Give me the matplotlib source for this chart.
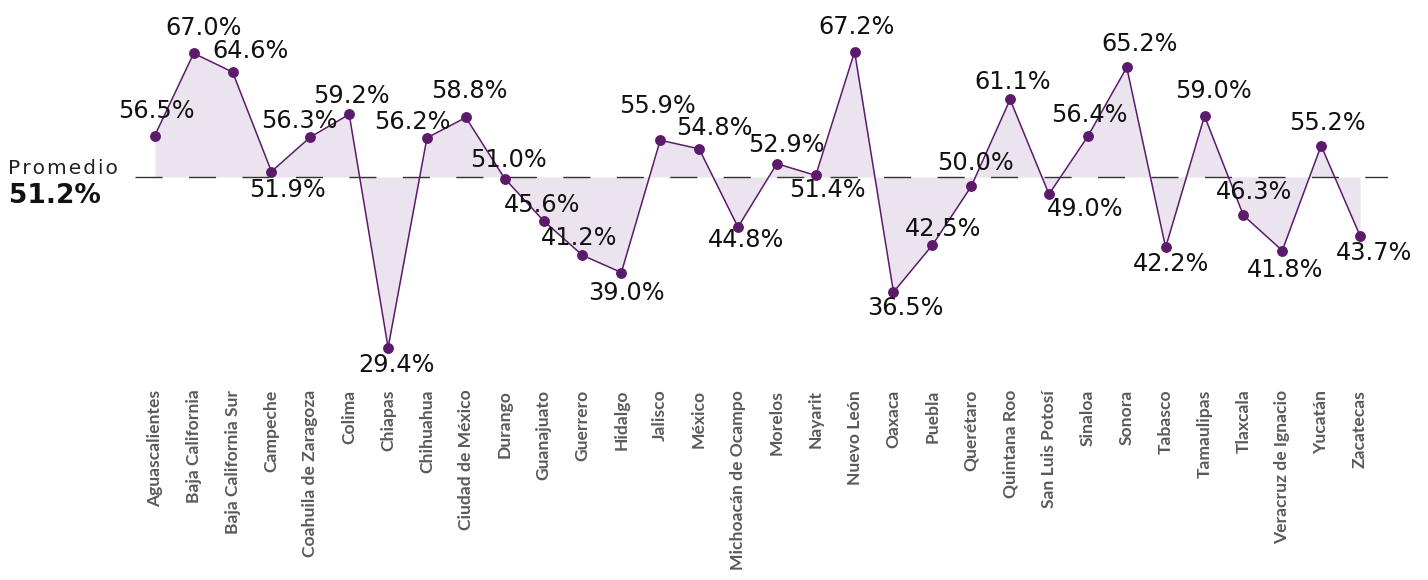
import numpy as np
import matplotlib.pyplot as plt

# data
states = ["Aguascalientes", "Baja California", "Baja California Sur", "Campeche",
          "Coahuila de Zaragoza", "Colima", "Chiapas", "Chihuahua", "Ciudad de México",
          "Durango", "Guanajuato", "Guerrero", "Hidalgo", "Jalisco", "México",
          "Michoacán de Ocampo", "Morelos", "Nayarit", "Nuevo León", "Oaxaca", "Puebla",
          "Querétaro", "Quintana Roo", "San Luis Potosí", "Sinaloa", "Sonora", "Tabasco",
          "Tamaulipas", "Tlaxcala", "Veracruz de Ignacio", "Yucatán", "Zacatecas"]
values = [56.5, 67.0, 64.6, 51.9, 56.3, 59.2, 29.4, 56.2, 58.8, 51.0, 45.6, 41.2,
          39.0, 55.9, 54.8, 44.8, 52.9, 51.4, 67.2, 36.5, 42.5, 50.0, 61.1, 49.0,
          56.4, 65.2, 42.2, 59.0, 46.3, 41.8, 55.2, 43.7]
average = 51.2

# label offsets in pixels (dx, dy up) - just layout tweaks
label_offsets = [(2, 25), (10, 25), (18, 21), (16, -18), (-11, 16), (2, 18), (8, -17),
                 (-15, 16), (4, 26), (4, 19), (-1, 16), (-3, 17), (5, -20), (-3, 34),
                 (15, 21), (8, -13), (10, 19), (12, -15), (2, 25), (12, -16), (11, 16),
                 (4, 23), (3, 17), (36, -15), (2, 21), (13, 23), (5, -17), (9, 25),
                 (11, 23), (3, -19), (6, 23), (14, -17)]

purple = "#5c1a6b"
fill_col = "#ebe4ee"

W, H = 1428, 580
fig = plt.figure(figsize=(W / 100, H / 100), dpi=100)
ax = fig.add_axes([135 / W, 1 - 380 / H, (1388 - 135) / W, 380 / H])

x = np.arange(len(states))
v = np.array(values)

ax.fill_between(x, v, average, color=fill_col, linewidth=0, zorder=1)
ax.axhline(average, color="#333333", linewidth=1.0, dashes=(19.5, 19), zorder=2)
ax.plot(x, v, color=purple, linewidth=1.1, marker="o", markersize=6.8, zorder=3)

for i, val in enumerate(values):
    dx, dy = label_offsets[i]
    ax.annotate(f"{val:.1f}%", (x[i], val), xytext=(dx, dy), textcoords="offset pixels",
                ha="center", va="center", fontsize=17.3, color="#111111",
                family="DejaVu Sans", zorder=4)

# y scale: 51.2 sits at 177 px, ~7.83 px per point
top = average + 177 / 7.83
bottom = average - (380 - 177) / 7.83
ax.set_ylim(bottom, top)
ax.set_xlim(-0.51, 31.72)

ax.set_xticks(x)
ax.set_xticklabels(states, rotation=90, ha="center", va="top", fontsize=12.6,
                   family="Lato", fontweight="bold", color="#5a5a5a")
ax.tick_params(axis="x", length=0, pad=7)
ax.set_yticks([])
for s in ax.spines.values():
    s.set_visible(False)

fig.text(8 / W, 1 - 168 / H, "P r o m e d i o".replace(" ", "\u200a"), fontsize=14.5,
         color="#222222", family="DejaVu Sans", ha="left", va="center")
fig.text(9 / W, 1 - 196 / H, "51.2%", fontsize=19, fontweight="bold", color="#111111",
         family="DejaVu Sans", ha="left", va="center")

fig.savefig("out.png", dpi=100)
